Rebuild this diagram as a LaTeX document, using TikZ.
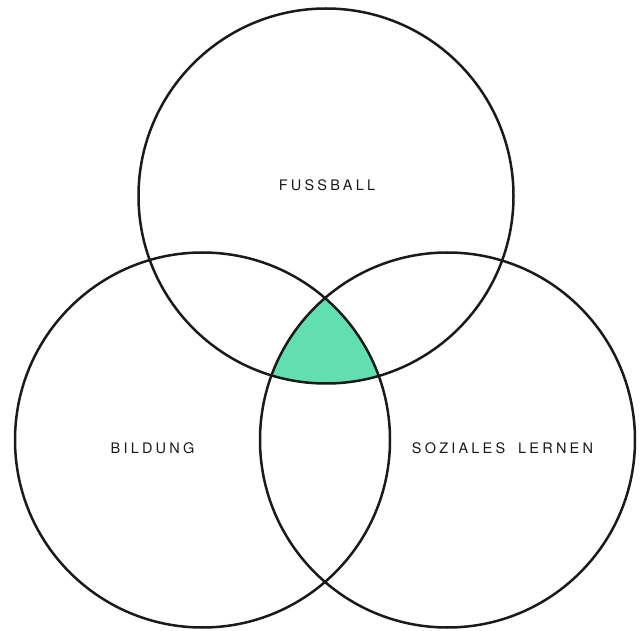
\documentclass[tikz,border=0pt]{standalone}
\usepackage{fontspec}
\setsansfont[LetterSpace=22,WordSpace=1.8]{TeX Gyre Heros}
\definecolor{venngreen}{HTML}{61DFB0}
\definecolor{vennline}{HTML}{1A1A1A}
\begin{document}
\begin{tikzpicture}[x=1pt,y=1pt,
  label/.style={font=\sffamily\fontsize{14.5}{17}\selectfont, text=vennline}]
\useasboundingbox (0,0) rectangle (643,630);
\begin{scope}
\clip (326,434) circle (187.5);
\clip (202.5,190) circle (187.5);
\fill[venngreen] (447.5,190) circle (187.5);
\end{scope}
\draw[vennline, line width=2.5pt] (326,434) circle (187.5);
\draw[vennline, line width=2.5pt] (202.5,190) circle (187.5);
\draw[vennline, line width=2.5pt] (447.5,190) circle (187.5);
\node[label] (fussball) at (327,445) {FUSSBALL};
\node[label] (bildung) at (152.5,182) {BILDUNG};
\node[label] (sozial) at (502.5,182) {SOZIALES LERNEN};
\end{tikzpicture}
\end{document}
